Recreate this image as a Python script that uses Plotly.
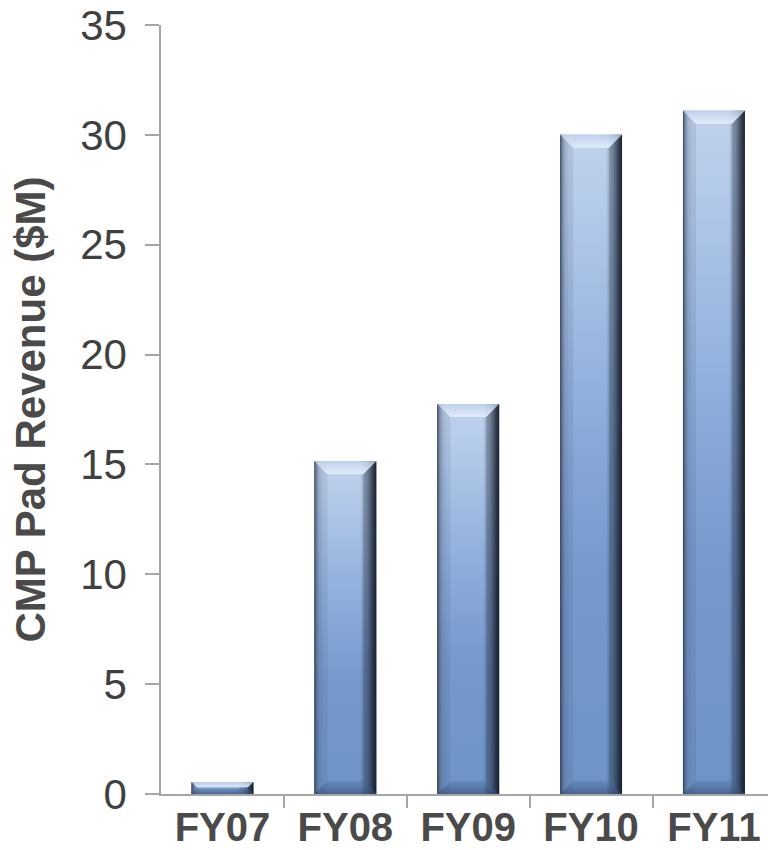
import plotly.graph_objects as go

# Revenue by fiscal year ($M)
categories = ["FY07", "FY08", "FY09", "FY10", "FY11"]
revenue = [0.55, 15.15, 17.75, 30.0, 31.1]

BAR_W = 0.504          # bar width in category units
PX_X = 607 / 4.94      # pixels per category unit
PX_Y = 769 / 35        # pixels per $M
BEVEL_PX = 13

fig = go.Figure()

# base bars
fig.add_trace(go.Bar(
    x=list(range(len(categories))), y=revenue, width=BAR_W,
    marker=dict(color="#7b9dcf", line=dict(width=0)),
    hovertemplate="%{customdata}: %{y}<extra></extra>",
    customdata=categories, showlegend=False,
))

body_scale = [[0.0, "#6d93c7"], [0.35, "#7799cd"], [0.6, "#8fafdc"],
              [0.85, "#afc7e8"], [1.0, "#c0d3ed"]]
edge_scale = [[0.0, "rgba(35,45,62,0.9)"], [0.03, "rgba(60,75,100,0.55)"],
              [0.09, "rgba(90,110,140,0.15)"], [0.14, "rgba(0,0,0,0)"],
              [0.74, "rgba(0,0,0,0)"], [0.85, "rgba(40,52,72,0.35)"],
              [0.95, "rgba(25,33,48,0.8)"], [1.0, "rgba(20,26,38,0.95)"]]


def poly(xs, ys, **kw):
    fig.add_trace(go.Scatter(
        x=xs + xs[:1], y=ys + ys[:1], mode="lines", fill="toself",
        line=dict(width=0), hoverinfo="skip", showlegend=False, **kw))


for i, v in enumerate(revenue):
    xl, xr = i - BAR_W / 2, i + BAR_W / 2
    by = min(BEVEL_PX / PX_Y, v * 0.45)
    bx = by * PX_Y / PX_X
    # vertical body gradient
    poly([xl, xr, xr, xl], [0, 0, v, v],
         fillgradient=dict(type="vertical", colorscale=body_scale))
    # side shading
    poly([xl, xr, xr, xl], [0, 0, v, v],
         fillgradient=dict(type="horizontal", colorscale=edge_scale))
    # top facet
    poly([xl, xr, xr - bx, xl + bx], [v, v, v - by, v - by],
         fillgradient=dict(type="vertical",
                           colorscale=[[0, "rgba(228,238,250,0.95)"],
                                       [1, "rgba(190,210,236,0.75)"]]))
    # left and right facets
    poly([xl, xl + bx, xl + bx, xl], [v, v - by, 0, 0],
         fillcolor="rgba(70,85,110,0.12)")
    poly([xr, xr - bx, xr - bx, xr], [v, v - by, 0, 0],
         fillcolor="rgba(20,28,42,0.18)")
    # bottom facet
    poly([xl, xr, xr - bx, xl + bx], [0, 0, by, by],
         fillgradient=dict(type="vertical",
                           colorscale=[[0, "rgba(50,72,110,0.6)"],
                                       [1, "rgba(80,110,155,0.3)"]]))

fig.update_layout(
    width=768, height=850,
    margin=dict(l=161, r=0, t=25, b=56),
    plot_bgcolor="white", paper_bgcolor="white",
    font=dict(family="Liberation Sans, Arial, sans-serif", color="#404040"),
    barmode="overlay",
)

fig.update_xaxes(
    range=[-0.5, 4.44], automargin=False,
    tickmode="array", tickvals=list(range(len(categories))), ticktext=categories,
    ticks="", showgrid=False, zeroline=False,
    showline=True, linecolor="#a6a6a6", linewidth=1.5,
    tickfont=dict(size=40, weight="bold", color="#4a4a4a"),
    ticklabelstandoff=-3,
    minor=dict(tickmode="array", tickvals=[0.5, 1.5, 2.5, 3.5],
               ticks="outside", ticklen=12, tickcolor="#a6a6a6", tickwidth=1.5),
)

fig.update_yaxes(
    range=[0, 35], dtick=5, tick0=0, automargin=False,
    ticks="outside", ticklen=14, tickcolor="#a6a6a6", tickwidth=1.5,
    showline=True, linecolor="#a6a6a6", linewidth=1.5,
    showgrid=False, zeroline=False,
    tickfont=dict(size=42, color="#404040"),
    ticklabelstandoff=10,
    title=dict(text="CMP Pad Revenue ($M)", standoff=21,
               font=dict(size=42, weight="bold", color="#4a4a4a")),
)

fig.write_html("out.html")
